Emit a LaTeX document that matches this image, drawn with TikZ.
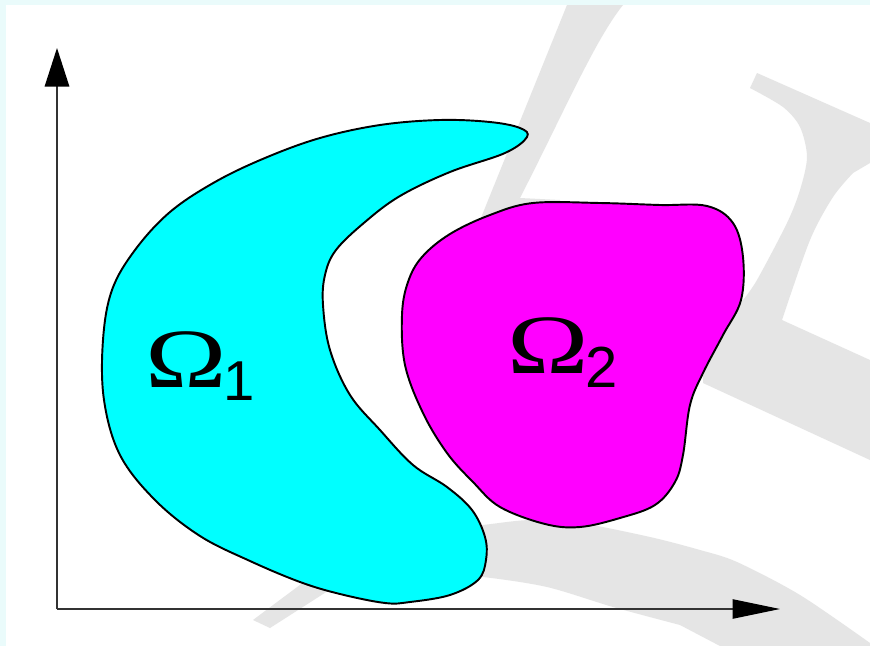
\documentclass[tikz,border=0pt]{standalone}
\usepackage{graphicx}
\usepackage{fontspec}
\newfontfamily\omegafont{Liberation Serif}
\newfontfamily\indexfont{Liberation Sans}
\usepackage{tikz}
\usetikzlibrary{arrows.meta}
\usepackage{xcolor}
\definecolor{frameTint}{HTML}{EAFBFB}
\definecolor{markGrey}{HTML}{E5E5E5}
\definecolor{regionOne}{HTML}{00FFFF}
\definecolor{regionTwo}{HTML}{FF00FF}

\begin{document}
\begin{tikzpicture}[x=0.02cm,y=-0.02cm,
    wmark/.style={fill=markGrey},
    regionshape/.style={draw=black,line width=1.1pt},
    axis/.style={draw=black!80,line width=0.8pt},
    region label/.style={anchor=base west,inner sep=0pt,font=\fontsize{48}{48}\omegafont}]
  % frame and watermark
  \fill[frameTint] (0,0) rectangle (870,646);
  \fill[white] (6,5) rectangle (870,646);
  \fill[wmark] (567,5) -- (623,5) .. controls (595,40) and (565,110) .. (520,198)
    -- (560,200) -- (560,240) -- (470,245) -- cycle;
  \fill[wmark] (253,620) -- (270,628) -- (345,580) -- (320,570) -- cycle;
  \fill[wmark] plot[smooth] coordinates {(440,530) (483,525) (530,520) (580,523) (650,537) (700,550) (737,562) (800,595) (870,643)}
    -- (870,646) -- (720,646)
    -- plot[smooth] coordinates {(680,625) (613,607) (547,587) (483,577) (440,575)} -- cycle;
  \fill[wmark] (750,88) -- (757,73) -- (870,123) -- (870,163)
    -- plot[smooth] coordinates {(853,173) (833,197) (810,240) (782,320)}
    -- (870,360) -- (870,460) -- (703,383) -- (705,320)
    -- plot[smooth] coordinates {(743,300) (757,280) (787,223) (800,190) (807,157) (800,127) (783,107) (750,88)} -- cycle;

  % axes
  \coordinate (origin) at (57,609);
  \coordinate (ytip) at (57,48);
  \coordinate (xtip) at (780,609);
  \draw[axis,-{Triangle[length=22pt,width=14pt,black]}] (origin) -- (ytip);
  \draw[axis,-{Triangle[length=27pt,width=11pt,black]}] (origin) -- (xtip);

  % the two regions
  \draw[regionshape,fill=regionOne] plot[smooth cycle,tension=0.6] coordinates {
    (527,137) (505,153) (450,172) (400,196) (365,222) (336,250) (325,275) (323,305)
    (330,350) (350,395) (380,430) (413,465) (447,487) (472,510) (485,537) (486,560)
    (478,580) (450,595) (410,602) (385,603) (340,594) (300,582) (250,561) (200,536)
    (155,500) (120,455) (104,400) (103,340) (112,290) (135,250) (170,212) (215,182)
    (265,158) (320,138) (380,125) (440,120) (490,122) (520,128)};
  \draw[regionshape,fill=regionTwo] plot[smooth cycle,tension=0.6] coordinates {
    (533,203) (600,203) (660,205) (707,206) (733,223) (743,257) (741,300) (723,335)
    (703,373) (690,405) (683,455) (675,482) (655,505) (620,518) (580,527) (545,524)
    (500,507) (473,482) (447,453) (423,413) (405,365) (402,315) (408,282) (422,257)
    (450,234) (490,215)};

  \node[region label] (omega1) at (145,387)
    {\scalebox{1.3}[1]{Ω}\kern-1.8pt\raisebox{-7.4pt}{\fontsize{32}{32}\indexfont 1}};
  \node[region label] (omega2) at (507,373)
    {\scalebox{1.3}[1]{Ω}\kern-2pt\raisebox{-8.5pt}{\fontsize{33}{33}\indexfont 2}};
\end{tikzpicture}
\end{document}
